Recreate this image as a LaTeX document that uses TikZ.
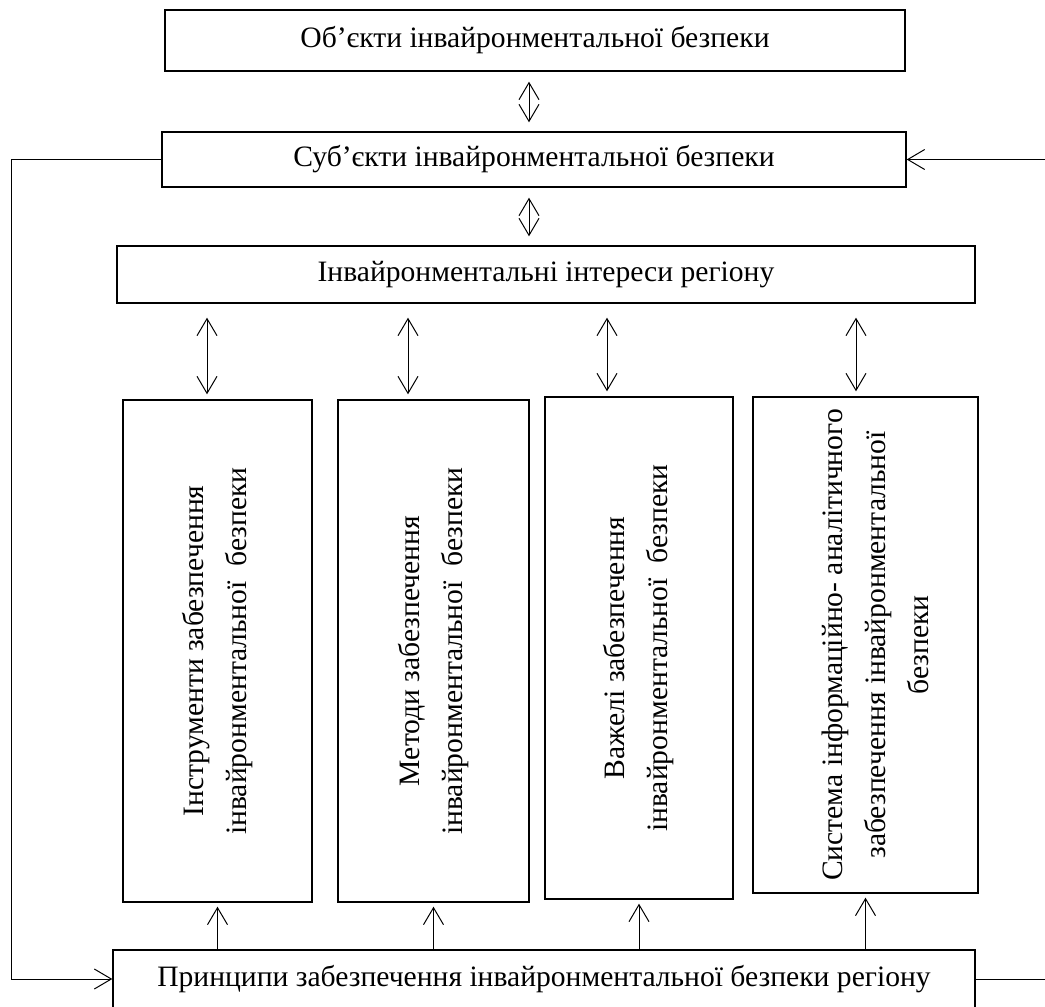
\documentclass[tikz,border=0pt]{standalone}
\usepackage{fontspec}
\setmainfont{Liberation Serif}
\usetikzlibrary{arrows.meta}

\begin{document}
\begin{tikzpicture}[x=0.5pt, y=-0.5pt]

    \tikzstyle{hbox} = [rectangle, draw=black, line width=0.7pt, inner sep=0pt, text centered, font=\fontsize{14.8}{21.5}\selectfont]
    \tikzstyle{vbox} = [rectangle, draw=black, line width=0.7pt, inner sep=0pt, minimum height=251pt]
    \tikzstyle{vtext} = [rotate=90, align=center, inner sep=0pt, font=\fontsize{14.8}{21.5}\selectfont]
    \tikzstyle{arrow} = [line width=0.5pt, ->, >={Straight Barb[length=8.5pt, width=10pt]}]
    \tikzstyle{dblarrow} = [arrow, <->, shorten <=5pt, shorten >=4.5pt]

    \useasboundingbox (0,0) rectangle (1045,1007);

    \node[hbox, minimum width=370pt, minimum height=30.5pt] (obj)   at (535,40.5)  {Об’єкти інвайронментальної безпеки};
    \node[hbox, minimum width=372pt, minimum height=27.5pt] (subj)  at (534,159.5) {Суб’єкти інвайронментальної безпеки};
    \node[hbox, minimum width=429pt, minimum height=28.5pt] (int)   at (546,274.5) {Інвайронментальні інтереси регіону};
    \node[hbox, minimum width=431pt, minimum height=29pt]   (princ) at (544,979)   {Принципи забезпечення інвайронментальної безпеки регіону};

    \node[vbox, minimum width=94.5pt] (instr) at (217.5,651) {};
    \node[vbox, minimum width=95.5pt] (meth)  at (433.5,651) {};
    \node[vbox, minimum width=94pt]   (lev)   at (639,648)   {};
    \node[vbox, minimum width=112.5pt, minimum height=248pt] (info) at (865.5,645) {};

    \node[vtext] (instrtxt) at (instr) {Інструменти забезпечення\\інвайронментальної~~безпеки};
    \node[vtext] (methtxt)  at (meth)  {Методи забезпечення\\інвайронментальної~~безпеки};
    \node[vtext] (levtxt)   at (lev)   {Важелі забезпечення\\інвайронментальної~~безпеки};
    \node[vtext] (infotxt)  at ([xshift=5pt]info.center) {Система інформаційно- аналітичного\\забезпечення інвайронментальної\\безпеки};

    \coordinate (lft) at (11,0);
    \coordinate (rgt) at (1045,0);

    \draw[dblarrow] ([xshift=-3pt]obj.south) -- ([xshift=-3pt]obj.south |- subj.north);
    \draw[dblarrow] ([xshift=-2.5pt]subj.south) -- ([xshift=-2.5pt]subj.south |- int.north);

    \draw[arrow, <->, shorten <=7pt, shorten >=2.5pt] ([xshift=-5.25pt]instr.north |- int.south) -- ([xshift=-5.25pt]instr.north);
    \draw[arrow, <->, shorten <=7pt, shorten >=2.5pt] ([xshift=-12.75pt]meth.north |- int.south) -- ([xshift=-12.75pt]meth.north);
    \draw[arrow, <->, shorten <=7pt, shorten >=2.5pt] ([xshift=-16pt]lev.north |- int.south) -- ([xshift=-16pt]lev.north);
    \draw[arrow, <->, shorten <=7pt, shorten >=2.5pt] ([xshift=-4.75pt]info.north |- int.south) -- ([xshift=-4.75pt]info.north);

    \draw[arrow, shorten >=2pt] (princ.north -| instr.south) -- (instr.south);
    \draw[arrow, shorten >=2pt] (princ.north -| meth.south)  -- (meth.south);
    \draw[arrow, shorten >=2pt] (princ.north -| lev.south)   -- (lev.south);
    \draw[arrow, shorten >=2pt] (princ.north -| info.south)  -- (info.south);

    \draw[arrow] (subj.west) -- (subj.west -| lft) |- (princ.west);
    \draw[line width=0.5pt] (princ.east) -- (princ.east -| rgt);
    \draw[arrow] (subj.east -| rgt) -- (subj.east);

\end{tikzpicture}
\end{document}
